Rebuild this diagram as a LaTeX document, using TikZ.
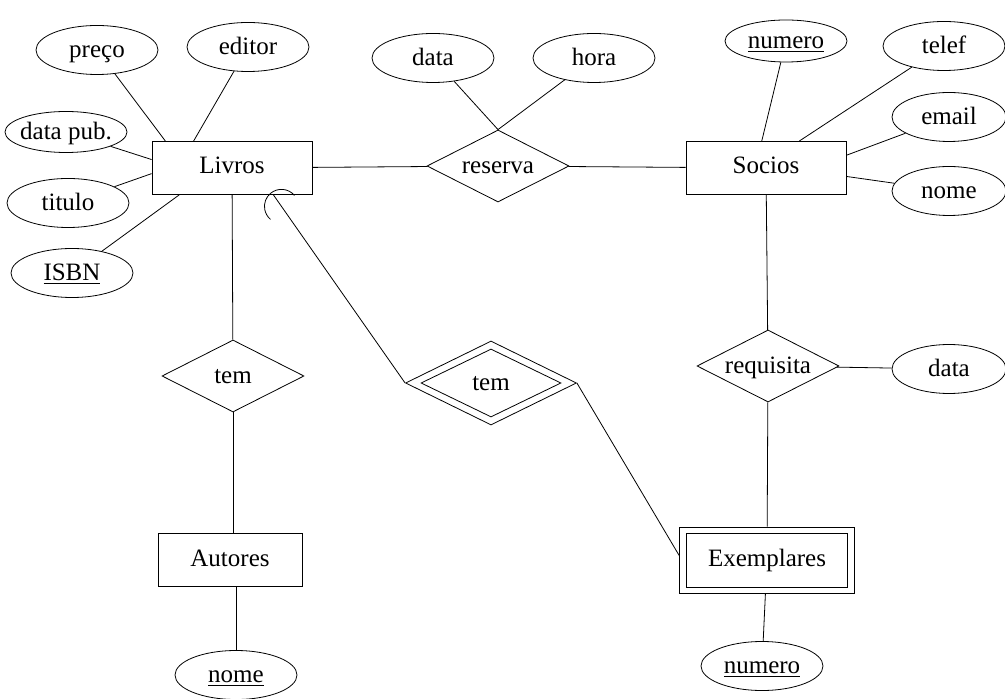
\documentclass[tikz,border=0pt]{standalone}
\usepackage{fontspec}
\setmainfont{Liberation Serif}
\usepackage{tikz}
\usetikzlibrary{shapes.geometric,calc}
\tikzset{
    entity/.style={
           rectangle,
           draw=black,
           minimum width=80pt,
           minimum height=26.5pt,
           inner sep=2pt,
           text height=8pt,
           text depth=2pt,
           text centered,
           },
    attrib/.style={
           ellipse,
           draw=black,
           minimum width=61pt,
           minimum height=24.5pt,
           inner xsep=-3pt,
           inner ysep=0pt,
           text height=8.5pt,
           text depth=1pt,
           },
    relation/.style={
           diamond,
           draw=black,
           aspect=2.5,
           minimum width=71pt,
           minimum height=36pt,
           inner sep=0pt,
           text height=8.5pt,
           text depth=1pt,
           },
}

\begin{document}
\begin{tikzpicture}[x=0.5pt,y=-0.5pt,font=\fontsize{12.5}{15}\selectfont]
\useasboundingbox (0,0) rectangle (1005,699);

 % entities
 \node[entity] (Livros) at (232,168) {Livros};
 \node[entity] (Socios) at (766,168) {Socios};
 \node[entity, minimum width=72pt] (Autores) at (230,560) {Autores};
 \node[entity,
  minimum width=87.5pt, 	% outer box
  minimum height=33pt] (Exemplares) at (767,560) {Exemplares};
 \node[entity,
  minimum width=80.5pt, 	% inner box
  minimum height=27pt] (ExemplaresIn) at (Exemplares) {};

 % relationships
 \node[relation] (reserva) at (498,166) {reserva};
 \node[relation] (tem1) at (233,376) {tem};
 \node[relation] (requisita) at (768,366) {requisita};
 \node[relation,
  minimum width=85.5pt, 	% outer diamond
  minimum height=42pt] (tem2) at (491,383) {tem};
 \node[relation,
  minimum width=70pt, 	% inner diamond
  minimum height=34pt] (tem2In) at (tem2) {};

 % attributes of Livros
 \node[attrib] (preco) at (97,50) {preço};
 \node[attrib] (editor) at (248,47) {editor};
 \node[attrib, minimum height=20.5pt] (datapub) at (66,132) {data pub.};
 \node[attrib] (titulo) at (68,203) {titulo};
 \node[attrib] (ISBN) at (72,273) {\underline{ISBN}};

 % attributes of reserva
 \node[attrib] (dataR) at (433,58) {data};
 \node[attrib] (hora) at (594,58) {hora};

 % attributes of Socios
 \node[attrib, minimum height=21pt] (numeroS) at (786,41) {\underline{numero}};
 \node[attrib] (telef) at (944,46) {telef};
 \node[attrib, minimum width=57pt] (email) at (949,117) {email};
 \node[attrib, minimum width=57pt] (nomeS) at (949,191) {nome};

 % attribute of requisita
 \node[attrib, minimum width=57pt] (dataQ) at (949,369) {data};

 % keys of Exemplares and Autores
 \node[attrib] (numeroE) at (762,666) {\underline{numero}};
 \node[attrib] (nomeA) at (236,675) {\underline{nome}};

 % draw the connections
 \path
 (preco)     	edge (Livros.158)
 (editor)    	edge (Livros.145)
 (datapub)   	edge (Livros.174)
 (titulo)    	edge (Livros.184)
 (ISBN)      	edge (Livros.207)
 (Livros)    	edge (reserva)
 (reserva)   	edge (Socios)
 (dataR)     	edge (reserva.north)
 (hora)      	edge (reserva.north)
 (numeroS)   	edge (Socios.99)
 (telef)     	edge (Socios.39)
 (email)     	edge (Socios.9)
 (nomeS)     	edge (Socios.-6)
 (Livros)    	edge (tem1)
 (tem1)      	edge (tem1 |- Autores.north)
 (nomeA)     	edge (nomeA |- Autores.south)
 (Socios)    	edge (requisita)
 (requisita) 	edge (dataQ)
 (requisita) 	edge (Exemplares)
 (Exemplares)	edge (numeroE)
 (Livros.-33)	edge (tem2.west)
 (tem2.east) 	edge (Exemplares.177);

 % arc at the Livros end of the weak relationship
 \coordinate (arcC) at ($(Livros.-33)!7pt!(tem2.west)$);
 \draw ([shift={(40:8.5pt)}]arcC) arc[start angle=40, end angle=230, radius=8.5pt];

\end{tikzpicture}
\end{document}
